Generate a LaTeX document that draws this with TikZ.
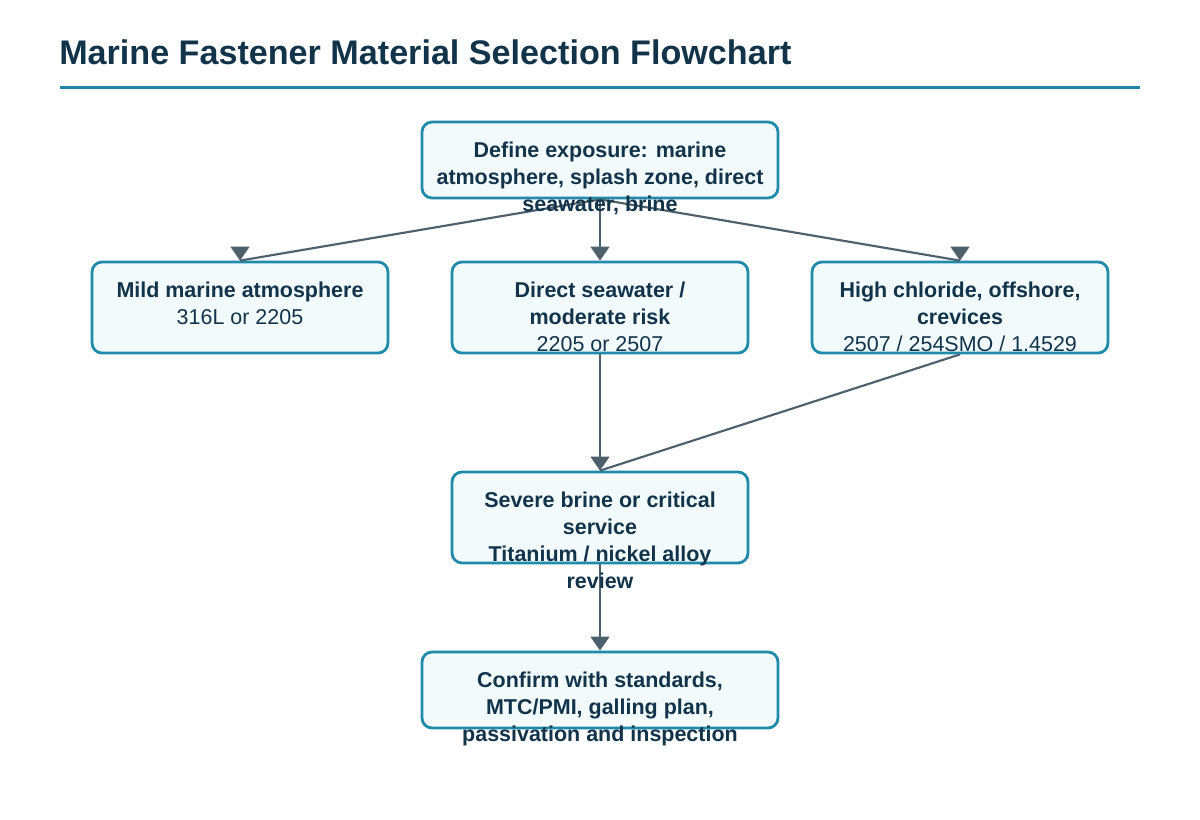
\documentclass[tikz,border=0pt]{standalone}
\usepackage{fontspec}
\setmainfont{Liberation Sans}
\usepackage{xcolor}
\usepackage{tikz}
\usetikzlibrary{arrows.meta,positioning}

\definecolor{titleink}{HTML}{12344A}
\definecolor{rulecol}{HTML}{1E87A8}
\definecolor{boxedge}{HTML}{1F8AAA}
\definecolor{boxfill}{HTML}{F2FAFC}
\definecolor{flowgray}{HTML}{4D616D}

\begin{document}
\begin{tikzpicture}[
  x=0.75pt, y=-0.75pt,
  box/.style={draw=boxedge, fill=boxfill, line width=2.1pt,
              rounded corners=7.5pt, inner sep=0pt,
              minimum width=222pt, minimum height=68.25pt},
  widebox/.style={box, minimum width=267pt, minimum height=57pt},
  txt/.style={anchor=north, align=center, inner sep=0pt, text=titleink,
              font=\fontsize{16.1}{20.25}\selectfont},
  flow/.style={draw=flowgray, line width=1.6pt},
  tip/.style={flow, line width=2pt, -{Triangle[width=14pt, length=10.5pt]},
              fill=flowgray},
]

\fill[white] (0,0) rectangle (1200,820);
\useasboundingbox (0,0) rectangle (1200,820);

% === Title ===
\node[anchor=base west, inner sep=0pt, text=titleink,
      font=\bfseries\fontsize{25.6}{30}\selectfont] (title) at (59,65)
  {Marine Fastener Material Selection Flowchart};
\draw[rulecol, line width=2.25pt] (60,88) -- (1140,88);

% === Boxes ===
\node[widebox] (expo) at (600,160) {};
\node[box] (mild) at (240,307.5) {};
\node[box] (direct) at (600,307.5) {};
\node[box] (high) at (960,307.5) {};
\node[box] (severe) at (600,517.5) {};
\node[widebox] (confirm) at (600,690) {};

% === Connectors ===
\draw[flow] (expo.south) -- (mild.north);
\draw[tip] ([yshift=10.5pt]mild.north) -- (mild.north);
\draw[tip] (expo.south) -- (direct.north);
\draw[flow] (expo.south) -- (high.north);
\draw[tip] ([yshift=10.5pt]high.north) -- (high.north);

\draw[tip] (direct.south) -- (severe.north);
\draw[flow] (high.south) -- (severe.north);
\draw[tip] (severe.south) -- (confirm.north);

% === Box texts (they run past the box edges) ===
\node[txt] (expo-t) at (600,142)
  {\textbf{Define exposure: marine}\\
   \textbf{atmosphere, splash zone, direct}\\
   \textbf{seawater, brine}};
\node[txt] (mild-t) at (240,282)
  {\textbf{Mild marine atmosphere}\\316L or 2205};
\node[txt] (direct-t) at (600,282)
  {\textbf{Direct seawater /}\\\textbf{moderate risk}\\2205 or 2507};
\node[txt] (high-t) at (960,282)
  {\textbf{High chloride, offshore,}\\\textbf{crevices}\\2507 / 254SMO / 1.4529};
\node[txt] (severe-t) at (600,492)
  {\textbf{Severe brine or critical}\\\textbf{service}\\
   \textbf{Titanium / nickel alloy}\\\textbf{review}};
\node[txt] (confirm-t) at (600,672)
  {\textbf{Confirm with standards,}\\\textbf{MTC/PMI, galling plan,}\\
   \textbf{passivation and inspection}};

\end{tikzpicture}
\end{document}
